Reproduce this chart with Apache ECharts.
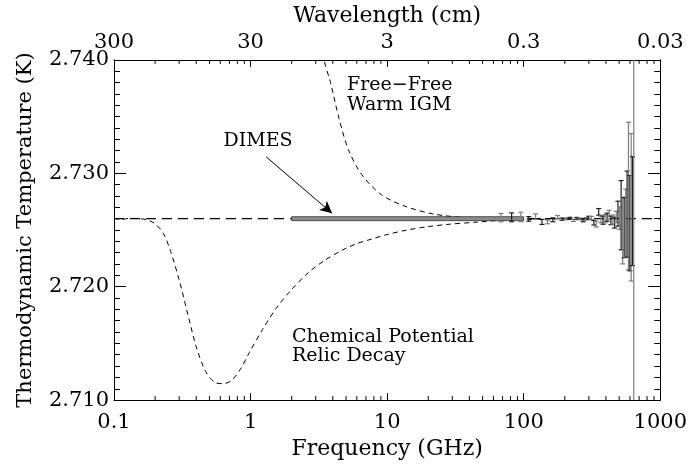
<!DOCTYPE html>
<html>
<head>
<meta charset="utf-8">
<script src="https://cdn.jsdelivr.net/npm/echarts@6/dist/echarts.min.js"></script>
<style>
  html, body { margin: 0; padding: 0; background: #fff; }
  #chart { width: 690px; height: 465px; }
</style>
</head>
<body>
<div id="chart"></div>
<script>
// Frequency decades (GHz) and the matching wavelength labels (cm) for the top axis
const freqTicks = [0.1, 1, 10, 100, 1000];
const waveLabels = ['300', '30', '3', '0.3', '0.03'];

// Undistorted blackbody temperature (K)
const baseFreq = [0.1, 1000];
const baseTemp = [2.726, 2.726];

// Chemical potential / relic decay distortion
const chemFreq = [0.1, 0.115, 0.13, 0.15, 0.174, 0.20, 0.23, 0.26, 0.30, 0.35, 0.40, 0.47,
  0.55, 0.63, 0.72, 0.84, 0.98, 1.22, 1.54, 1.98, 2.68, 3.57, 4.65, 6.0, 7.7, 10, 14, 20, 28, 46, 76, 120, 200];
const chemTemp = [2.7260, 2.72594, 2.72603, 2.72600, 2.72590, 2.72555, 2.7247, 2.7231, 2.7206, 2.7174, 2.7147, 2.7125,
  2.71155, 2.71145, 2.7117, 2.7127, 2.7142, 2.7162, 2.7181, 2.7197, 2.7213, 2.7224, 2.7232, 2.7238, 2.7242, 2.7246, 2.7250, 2.7253, 2.7255, 2.7257, 2.7259, 2.72595, 2.7260];

// Free-free emission from a warm intergalactic medium
const ffFreq = [3.0, 3.45, 3.85, 4.45, 5.2, 6.5, 9.1, 13.5, 22, 37, 60, 100, 200];
const ffTemp = [2.7445, 2.7400, 2.7380, 2.7348, 2.7321, 2.7299, 2.7281, 2.7271, 2.7264, 2.7261, 2.72603, 2.72601, 2.7260];

// DIMES sensitivity band (GHz) at the blackbody temperature
const dimesFreq = [2, 100];
const dimesTemp = 2.726;
const dimesArrowFrom = [1.30, 2.73145];
const dimesArrowTo = [3.95, 2.72648];

// FIRAS spectrum: frequency (GHz), temperature (K), 1-sigma uncertainty (K)
const firasFreq = [68.1, 81.6, 95.3, 108.8, 122.3, 136.1, 149.6, 163.4, 176.9, 190.4, 204.2, 217.7, 231.1,
  244.9, 258.4, 272.2, 285.7, 299.2, 313.0, 326.5, 340.0, 353.8, 367.3, 381.0, 394.5, 408.0, 421.8,
  435.3, 448.8, 462.6, 476.1, 489.9, 503.4, 516.8, 530.6, 544.1, 557.9, 571.4, 584.9, 598.7, 612.2, 625.7, 639.5];
const firasTemp = [2.72609, 2.72612, 2.72615, 2.72598, 2.72618, 2.72571, 2.72571, 2.72590, 2.72615, 2.72596, 2.72598, 2.72603, 2.72586,
  2.72602, 2.72598, 2.72583, 2.72598, 2.72608, 2.72605, 2.72564, 2.72552, 2.72660, 2.72593, 2.72587, 2.72600, 2.72613, 2.72633,
  2.72585, 2.72592, 2.72565, 2.72615, 2.72644, 2.72605, 2.72631, 2.72491, 2.72522, 2.72560, 2.72640, 2.72800, 2.72560, 2.72700, 2.72666, 2.72600];
const firasErr = [0.00037, 0.00039, 0.00042, 0.00020, 0.00024, 0.00022, 0.00016, 0.00017, 0.00013, 0.00010, 0.00008, 0.00009, 0.00010,
  0.00009, 0.00008, 0.00010, 0.00011, 0.00013, 0.00015, 0.00020, 0.00026, 0.00029, 0.00029, 0.00036, 0.00036, 0.00036, 0.00040,
  0.00038, 0.00040, 0.00048, 0.00050, 0.00110, 0.00100, 0.00305, 0.00290, 0.00266, 0.00300, 0.00380, 0.00650, 0.00420, 0.00650, 0.00480, 0.05000];

const FONT = 'DejaVu Serif';
const yMin = 2.710, yMax = 2.740;

const zip = (xs, ys) => xs.map((x, i) => [x, ys[i]]);

// log-axis minor tick positions (2..9 within each decade)
const minorTickVals = [];
for (let d = 0; d < freqTicks.length - 1; d++) {
  for (let m = 2; m <= 9; m++) minorTickVals.push([freqTicks[d] * m, yMin]);
}

function renderMinorTicks(params, api) {
  const cs = params.coordSys;
  const x = api.coord([api.value(0), yMin])[0];
  const yb = cs.y + cs.height, yt = cs.y;
  return {
    type: 'group',
    children: [
      { type: 'line', shape: { x1: x, y1: yb, x2: x, y2: yb - 4 }, style: { stroke: '#000', lineWidth: 1 } },
      { type: 'line', shape: { x1: x, y1: yt, x2: x, y2: yt + 4 }, style: { stroke: '#000', lineWidth: 1 } }
    ]
  };
}

function renderDimes(params, api) {
  const p1 = api.coord([api.value(0), api.value(2)]);
  const p2 = api.coord([api.value(1), api.value(2)]);
  return {
    type: 'rect',
    shape: { x: p1[0], y: p1[1] - 2, width: p2[0] - p1[0], height: 4 },
    style: { fill: '#8c8c8c', stroke: '#333', lineWidth: 0.8 }
  };
}

function renderErrorBar(params, api) {
  const cs = params.coordSys;
  const f = api.value(0), t = api.value(1), e = api.value(2);
  const x = api.coord([f, t])[0];
  let yHi = api.coord([f, t + e])[1];
  let yLo = api.coord([f, t - e])[1];
  const top = cs.y, bot = cs.y + cs.height;
  const color = params.dataIndex % 2 === 0 ? '#7d7d7d' : '#1e1e1e';
  const children = [];
  const capHi = yHi >= top, capLo = yLo <= bot;
  yHi = Math.max(yHi, top);
  yLo = Math.min(yLo, bot);
  children.push({ type: 'line', shape: { x1: x, y1: yHi, x2: x, y2: yLo }, style: { stroke: color, lineWidth: 1.2 } });
  if (capHi) children.push({ type: 'line', shape: { x1: x - 2.5, y1: yHi, x2: x + 2.5, y2: yHi }, style: { stroke: color, lineWidth: 1.2 } });
  if (capLo) children.push({ type: 'line', shape: { x1: x - 2.5, y1: yLo, x2: x + 2.5, y2: yLo }, style: { stroke: color, lineWidth: 1.2 } });
  return { type: 'group', children };
}

const chart = echarts.init(document.getElementById('chart'), null, { renderer: 'canvas' });

const axisText = { fontFamily: FONT, fontSize: 21, color: '#000' };
const titleText = { fontFamily: FONT, fontSize: 22, color: '#000' };
const noteFont = '19px "DejaVu Serif"';

chart.setOption({
  animation: false,
  backgroundColor: '#fff',
  grid: { left: 114, right: 27, top: 57, bottom: 64, containLabel: false },
  xAxis: [
    {
      type: 'log', logBase: 10, min: 0.1, max: 1000, position: 'bottom',
      name: 'Frequency (GHz)', nameLocation: 'middle', nameGap: 35,
      nameTextStyle: titleText,
      axisLine: { show: true, lineStyle: { color: '#000', width: 1 } },
      axisTick: { show: true, inside: true, length: 7, lineStyle: { color: '#000' } },
      axisLabel: Object.assign({ margin: 12, formatter: v => String(freqTicks[Math.round(Math.log10(v)) + 1]) }, axisText),
      splitLine: { show: false }
    },
    {
      type: 'log', logBase: 10, min: 0.1, max: 1000, position: 'top',
      name: 'Wavelength (cm)', nameLocation: 'middle', nameGap: 31,
      nameTextStyle: titleText,
      axisLine: { show: true, lineStyle: { color: '#000', width: 1 } },
      axisTick: { show: true, inside: true, length: 7, lineStyle: { color: '#000' } },
      axisLabel: Object.assign({ margin: 7, formatter: v => waveLabels[Math.round(Math.log10(v)) + 1] }, axisText),
      splitLine: { show: false }
    }
  ],
  yAxis: [
    {
      type: 'value', min: yMin, max: yMax, interval: 0.01, position: 'left',
      name: 'Thermodynamic Temperature (K)', nameLocation: 'middle', nameGap: 78,
      nameTextStyle: axisText,
      axisLine: { show: true, lineStyle: { color: '#000', width: 1 } },
      axisTick: { show: true, inside: true, length: 12, lineStyle: { color: '#000' } },
      minorTick: { show: true, splitNumber: 10, length: 6, lineStyle: { color: '#000' } },
      axisLabel: Object.assign({ margin: 5, formatter: v => v.toFixed(3) }, axisText),
      splitLine: { show: false }
    },
    {
      type: 'value', min: yMin, max: yMax, interval: 0.01, position: 'right',
      axisLine: { show: true, lineStyle: { color: '#000', width: 1 } },
      axisTick: { show: true, inside: true, length: 12, lineStyle: { color: '#000' } },
      minorTick: { show: true, splitNumber: 10, length: 6, lineStyle: { color: '#000' } },
      axisLabel: { show: false },
      splitLine: { show: false }
    }
  ],
  series: [
    {
      name: 'minor ticks', type: 'custom', xAxisIndex: 0, yAxisIndex: 0, silent: true, clip: false,
      data: minorTickVals, renderItem: renderMinorTicks, z: 5
    },
    {
      name: 'Blackbody', type: 'line', xAxisIndex: 0, yAxisIndex: 0, data: zip(baseFreq, baseTemp),
      showSymbol: false, symbol: 'none',
      lineStyle: { color: '#000', width: 1.2, type: [10, 6] }, z: 2
    },
    {
      name: 'Chemical Potential', type: 'line', xAxisIndex: 0, yAxisIndex: 0, data: zip(chemFreq, chemTemp),
      showSymbol: false, symbol: 'none', smooth: 0.3,
      lineStyle: { color: '#000', width: 1, type: [5, 4] }, z: 2
    },
    {
      name: 'Free-Free', type: 'line', xAxisIndex: 0, yAxisIndex: 0, data: zip(ffFreq, ffTemp),
      showSymbol: false, symbol: 'none', smooth: 0.3, clip: true,
      lineStyle: { color: '#000', width: 1, type: [5, 4] }, z: 2
    },
    {
      name: 'DIMES', type: 'custom', xAxisIndex: 0, yAxisIndex: 0, silent: true,
      data: [[dimesFreq[0], dimesFreq[1], dimesTemp]], renderItem: renderDimes, z: 3,
      markLine: {
        silent: true, symbol: ['none', 'arrow'], symbolSize: [9, 12],
        lineStyle: { color: '#000', width: 1, type: 'solid' }, label: { show: false },
        data: [[{ coord: dimesArrowFrom }, { coord: dimesArrowTo }]]
      }
    },
    {
      name: 'FIRAS', type: 'custom', xAxisIndex: 0, yAxisIndex: 0, silent: true, clip: false,
      data: firasFreq.map((f, i) => [f, firasTemp[i], firasErr[i]]), renderItem: renderErrorBar, z: 4
    }
  ],
  graphic: [
    { type: 'text', style: { text: 'DIMES', x: 258, y: 141, textAlign: 'center', textVerticalAlign: 'middle', font: noteFont, fill: '#000' } },
    { type: 'text', style: { text: 'Free\u2212Free', x: 347, y: 85, textAlign: 'left', textVerticalAlign: 'middle', font: noteFont, fill: '#000' } },
    { type: 'text', style: { text: 'Warm IGM', x: 347, y: 105, textAlign: 'left', textVerticalAlign: 'middle', font: noteFont, fill: '#000' } },
    { type: 'text', style: { text: 'Chemical Potential', x: 292, y: 337, textAlign: 'left', textVerticalAlign: 'middle', font: noteFont, fill: '#000' } },
    { type: 'text', style: { text: 'Relic Decay', x: 292, y: 356, textAlign: 'left', textVerticalAlign: 'middle', font: noteFont, fill: '#000' } }
  ]
});
</script>
</body>
</html>
